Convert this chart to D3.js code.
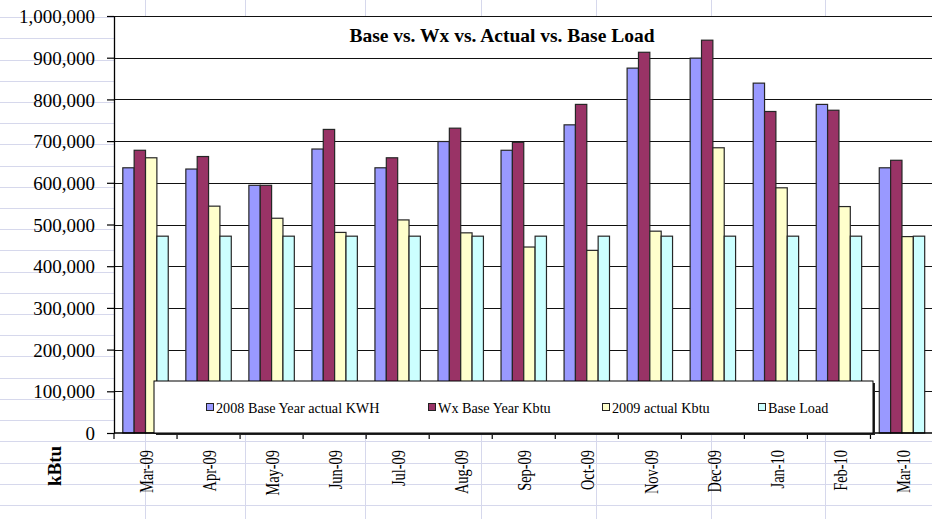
<!DOCTYPE html>
<html>
<head>
<meta charset="utf-8">
<script src="https://cdn.jsdelivr.net/npm/d3@7"></script>
<style>
  html, body { margin: 0; padding: 0; background: #fff; }
  svg { display: block; }
  text { font-family: "Liberation Serif", "Times New Roman", serif; fill: #000; }
</style>
</head>
<body>
<svg id="chart" width="932" height="519"></svg>
<script>
// Monthly energy use (kBtu)
const months = ["Mar-09", "Apr-09", "May-09", "Jun-09", "Jul-09", "Aug-09", "Sep-09",
                "Oct-09", "Nov-09", "Dec-09", "Jan-10", "Feb-10", "Mar-10"];
const baseYear2008 = [636000, 633000, 594000, 681000, 636000, 699000, 678000,
                      739000, 875000, 899000, 839000, 788000, 636000];
const wxBaseYear   = [678000, 663000, 594000, 728000, 660000, 731000, 697000,
                      788000, 913000, 942000, 771000, 774000, 654000];
const actual2009   = [660000, 544000, 515000, 481000, 511000, 480000, 446000,
                      438000, 484000, 684000, 588000, 543000, 471000];
const baseLoad     = [472000, 472000, 472000, 472000, 472000, 472000, 472000,
                      472000, 472000, 472000, 472000, 472000, 472000];
const seriesNames  = ["2008 Base Year actual KWH", "Wx Base Year Kbtu", "2009 actual Kbtu", "Base Load"];
const seriesColors = ["#9999ff", "#993366", "#ffffcc", "#ccffff"];
const yTicks = [0, 100000, 200000, 300000, 400000, 500000, 600000, 700000, 800000, 900000, 1000000];

const svg = d3.select("#chart");
const W = 932, H = 519;
const plot = { left: 114, right: 933.5, top: 16, bottom: 433 };

// worksheet cell grid behind the chart
const sheet = svg.append("g").attr("stroke", "#d6d8ec").attr("stroke-width", 1);
d3.range(0, 24).forEach(k => {
  const y = Math.round(17.1 + k * 21.21) + 0.5;
  sheet.append("line").attr("x1", 0).attr("x2", W).attr("y1", y).attr("y2", y);
});
[145.5, 245.5, 365.5, 481.5, 596.5, 711.5, 825.5].forEach(x => {
  sheet.append("line").attr("x1", x).attr("x2", x).attr("y1", 0).attr("y2", H);
});

// plot area
svg.append("rect")
  .attr("x", plot.left).attr("y", plot.top)
  .attr("width", plot.right - plot.left).attr("height", plot.bottom - plot.top)
  .attr("fill", "#fff");

const x0 = d3.scaleBand().domain(months).range([plot.left, plot.right]).padding(0);
const x1 = d3.scaleBand().domain(d3.range(4))
  .range([8.8, x0.bandwidth() - 8.8]).padding(0);
const y = d3.scaleLinear().domain([0, 1000000]).range([plot.bottom, plot.top]);

// horizontal gridlines
svg.append("g").selectAll("line").data(yTicks.slice(1)).join("line")
  .attr("x1", plot.left).attr("x2", plot.right)
  .attr("y1", d => Math.round(y(d)) + 0.5).attr("y2", d => Math.round(y(d)) + 0.5)
  .attr("stroke", "#111").attr("stroke-width", 1.1);

// bars
const seriesValues = [baseYear2008, wxBaseYear, actual2009, baseLoad];
const rows = months.map((m, i) => ({ month: m, values: seriesValues.map(s => s[i]) }));
svg.append("g").selectAll("g").data(rows).join("g")
  .attr("transform", d => `translate(${x0(d.month)},0)`)
  .selectAll("rect").data(d => d.values.map((v, s) => ({ s, v }))).join("rect")
  .attr("x", d => x1(d.s))
  .attr("y", d => y(d.v))
  .attr("width", x1.bandwidth())
  .attr("height", d => y(0) - y(d.v))
  .attr("fill", d => seriesColors[d.s])
  .attr("stroke", "#262626").attr("stroke-width", 1.2);

// y axis
const yAxis = svg.append("g")
  .attr("transform", `translate(${plot.left},0)`)
  .call(d3.axisLeft(y).tickValues(yTicks).tickFormat(d3.format(",")).tickSizeInner(7).tickSizeOuter(0).tickPadding(12));
yAxis.select(".domain").attr("stroke", "#000").attr("stroke-width", 1.3);
yAxis.selectAll(".tick line").attr("stroke", "#000").attr("stroke-width", 1.2);
yAxis.selectAll(".tick text")
  .attr("font-family", "Liberation Serif, serif").attr("font-size", 19)
  .attr("fill", "#000").attr("dy", "0.35em");

// x axis
svg.append("line")
  .attr("x1", plot.left).attr("x2", plot.right)
  .attr("y1", plot.bottom).attr("y2", plot.bottom)
  .attr("stroke", "#000").attr("stroke-width", 1.3);
svg.append("g").selectAll("line").data(months.concat(["end"])).join("line")
  .attr("x1", (d, i) => plot.left + i * x0.bandwidth())
  .attr("x2", (d, i) => plot.left + i * x0.bandwidth())
  .attr("y1", plot.bottom).attr("y2", plot.bottom + 6)
  .attr("stroke", "#000").attr("stroke-width", 1.2);
svg.append("g").selectAll("text").data(months).join("text")
  .attr("transform", d => `translate(${x0(d) + x0.bandwidth() / 2 + 1.5},${plot.bottom + 17}) rotate(-90) scale(0.76,1)`)
  .attr("text-anchor", "end")
  .attr("dominant-baseline", "central")
  .attr("font-size", 19)
  .text(d => d);

// axis title
svg.append("text")
  .attr("transform", "translate(54,466) rotate(-90)")
  .attr("text-anchor", "middle")
  .attr("dominant-baseline", "central")
  .attr("font-size", 19).attr("font-weight", "bold")
  .text("kBtu");

// chart title
svg.append("text")
  .attr("x", 502).attr("y", 42)
  .attr("text-anchor", "middle")
  .attr("font-size", 19.5).attr("font-weight", "bold")
  .text("Base vs. Wx vs. Actual vs. Base Load");

// legend
const lg = { x: 154, y: 381, w: 719, h: 52 };
svg.append("rect")
  .attr("x", lg.x + 2).attr("y", lg.y + 2).attr("width", lg.w).attr("height", lg.h)
  .attr("fill", "#222");
svg.append("rect")
  .attr("x", lg.x).attr("y", lg.y).attr("width", lg.w).attr("height", lg.h)
  .attr("fill", "#fff").attr("stroke", "#000").attr("stroke-width", 1);
const legendOffsets = [52, 274, 448, 604];
const items = svg.append("g").selectAll("g").data(seriesNames).join("g")
  .attr("transform", (d, i) => `translate(${lg.x + legendOffsets[i]},${lg.y + 26})`);
items.append("rect")
  .attr("x", 0.5).attr("y", -3.5).attr("width", 7).attr("height", 7)
  .attr("fill", (d, i) => seriesColors[i])
  .attr("stroke", "#222").attr("stroke-width", 1);
items.append("text")
  .attr("x", 10).attr("y", 6)
  .attr("font-size", 14.2)
  .text(d => d);
</script>
</body>
</html>
